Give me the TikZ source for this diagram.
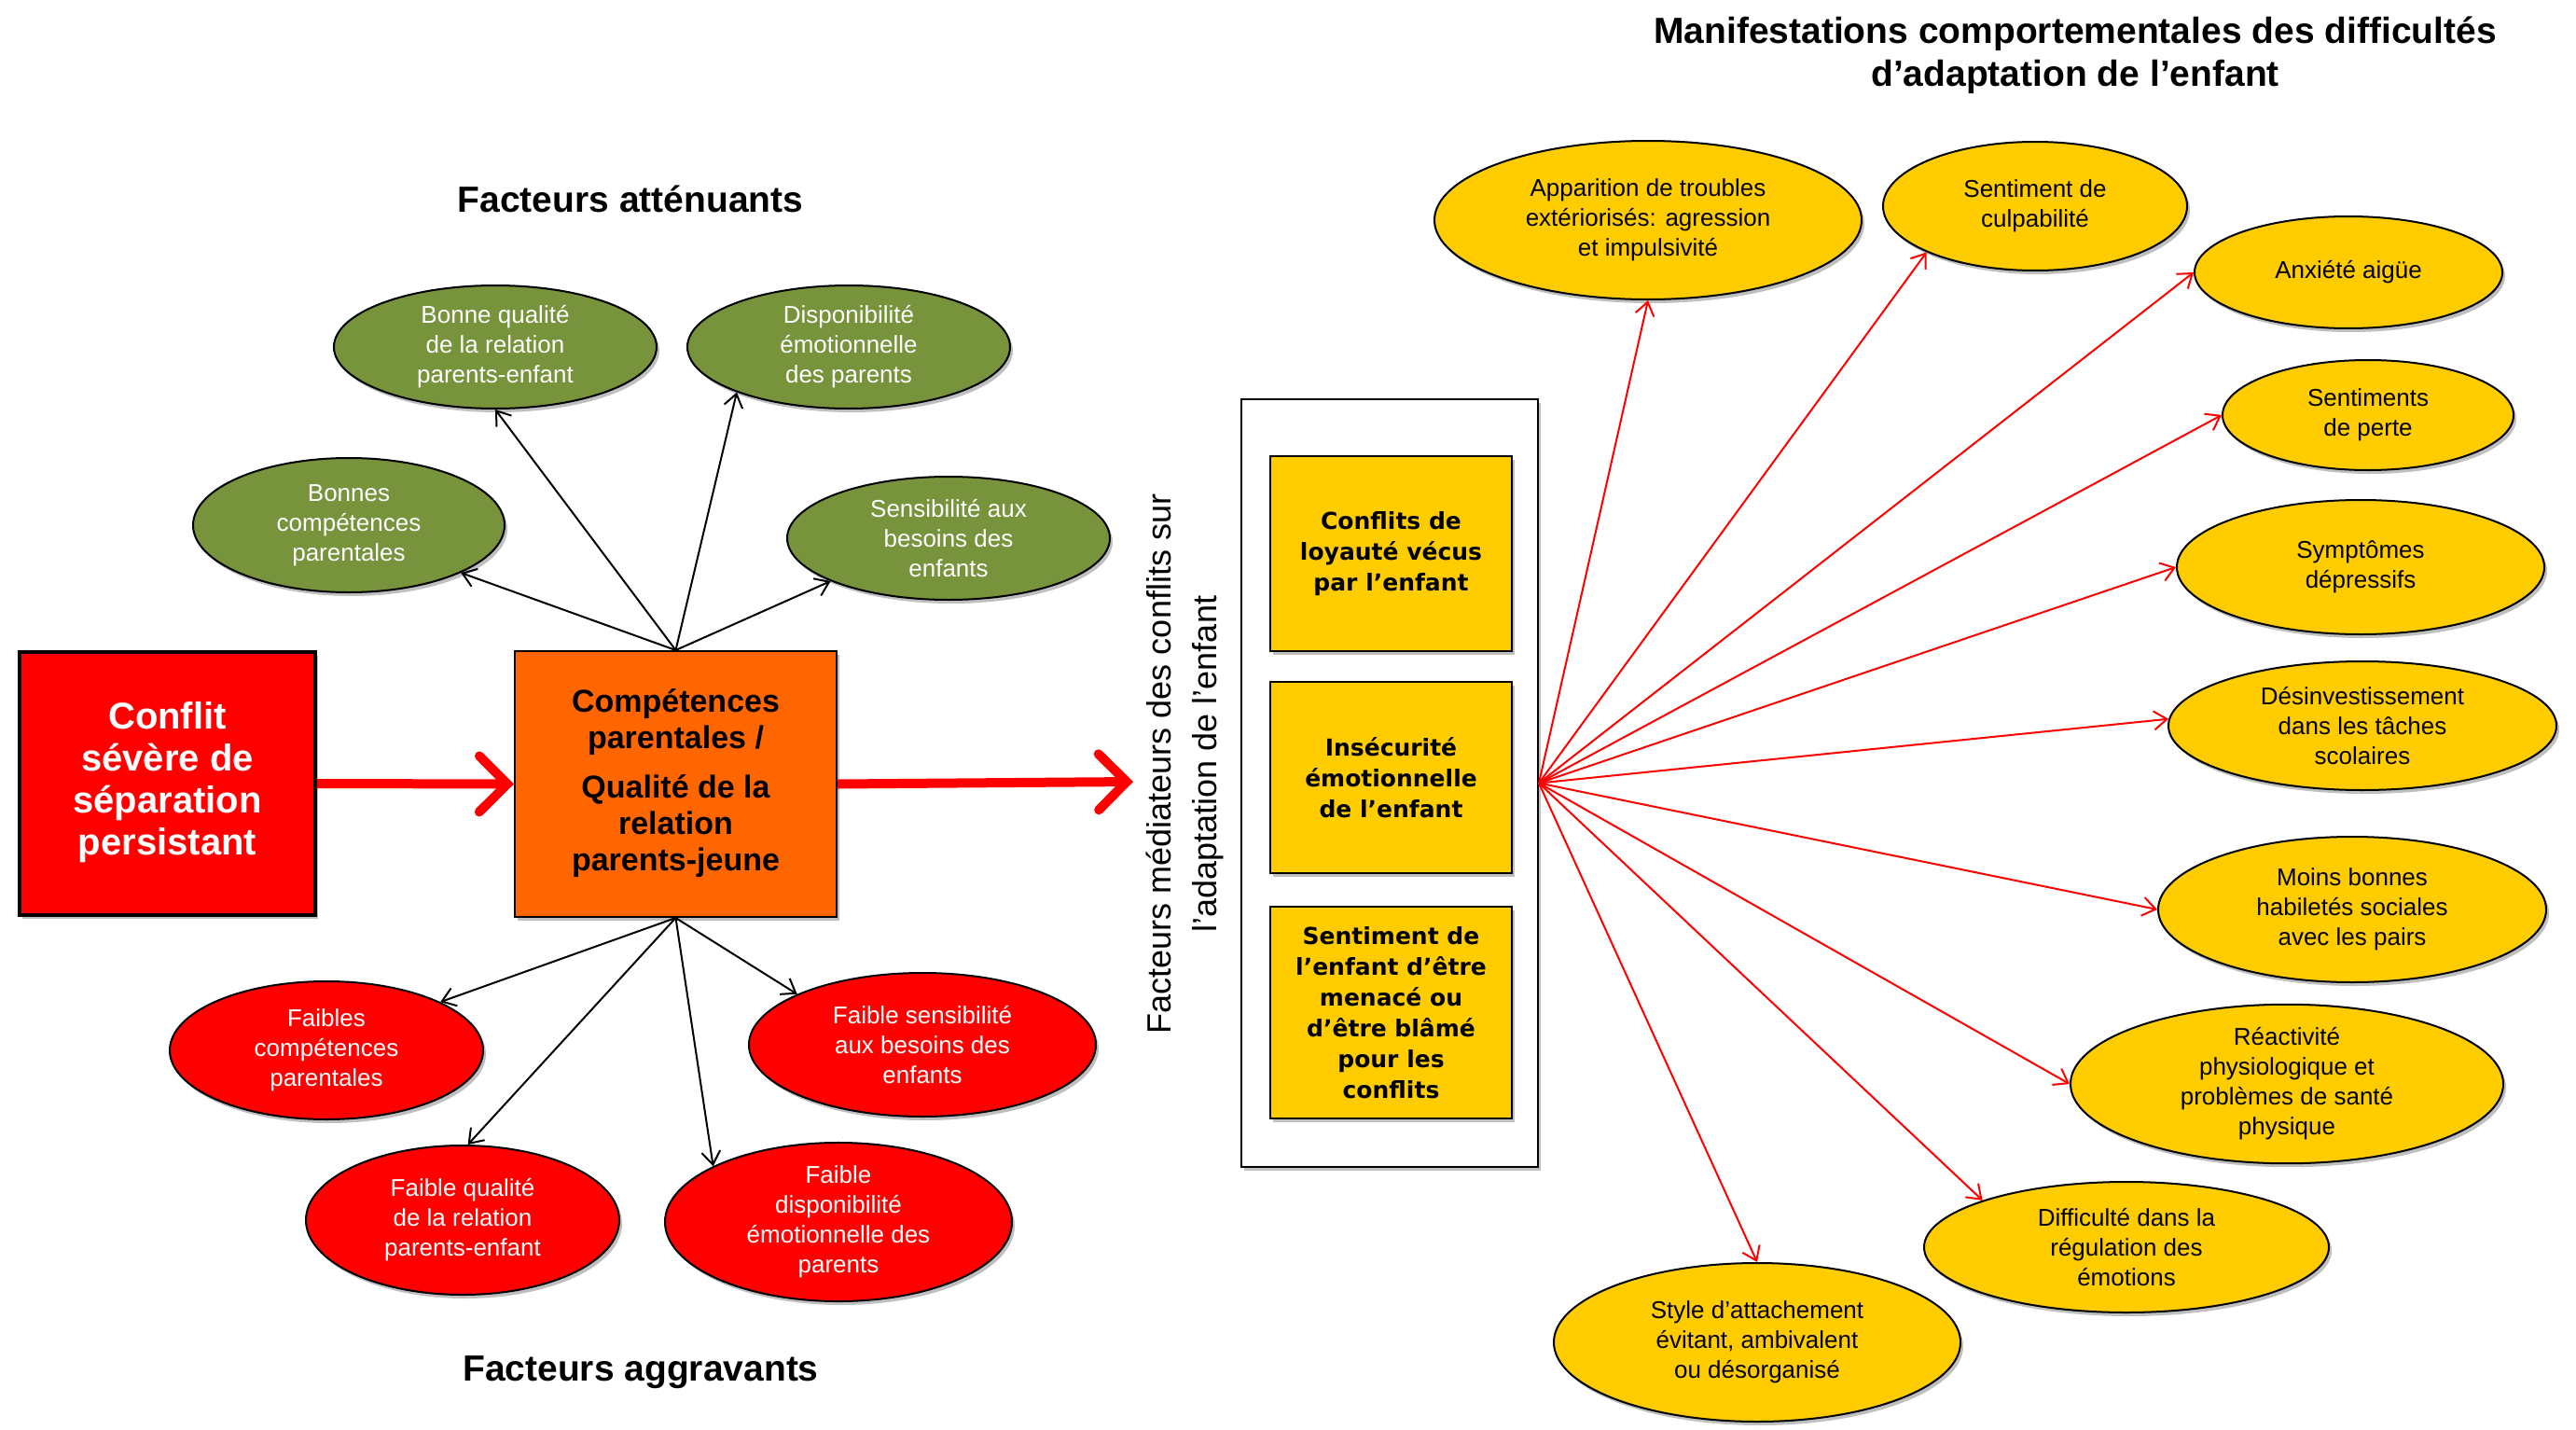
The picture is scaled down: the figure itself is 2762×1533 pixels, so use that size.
\documentclass[tikz,border=0pt]{standalone}
\usepackage{fontspec}
\setmainfont{Liberation Sans}
\newfontfamily\verd{DejaVu Sans}
\usetikzlibrary{shapes.geometric,arrows.meta,shadows}
\definecolor{cgreen}{HTML}{77933C}
\definecolor{cyellow}{HTML}{FFCC00}
\definecolor{cred}{HTML}{FF0000}
\definecolor{corange}{HTML}{FF6600}
\newcommand{\lowtext}[2]{\raisebox{#1}{\begin{tabular}{@{}c@{}}#2\end{tabular}}}
\tikzset{
  shad/.style={drop shadow={shadow xshift=3pt,shadow yshift=-4pt,opacity=.25,fill=black}},
  ell/.style={ellipse, draw=black, line width=2pt, inner sep=0pt, align=center,
    font=\fontsize{26}{32}\selectfont, shad},
  yel/.style={ell, fill=cyellow},
  grn/.style={ell, fill=cgreen, text=white},
  bad/.style={ell, fill=cred, text=white},
  medbox/.style={rectangle, draw=black, line width=2pt, fill=cyellow, align=center,
    minimum width=259pt, inner sep=0pt, font=\verd\bfseries\fontsize{25}{33}\selectfont, shad},
  titletext/.style={font=\bfseries\fontsize{39}{46}\selectfont, align=center},
  fanarrow/.style={draw=cred, line width=2pt, -{Straight Barb[length=14pt,width=20pt]}},
  blkarrow/.style={draw=black, line width=2pt, -{Straight Barb[length=14pt,width=20pt]}},
  bigarrow/.style={draw=cred, line width=10pt, -{Straight Barb[length=30pt,width=60pt,line cap=round]}}
}
\begin{document}
\begin{tikzpicture}[x=1pt,y=-1pt]
\useasboundingbox (0,0) rectangle (2762,1533);

% titles
\node[titletext] (tatt) at (676,213) {Facteurs atténuants};
\node[titletext] (tagg) at (687,1471) {Facteurs aggravants};
\node[titletext] (tman) at (2225,59) {Manifestations comportementales des difficultés\\d’adaptation de l’enfant};

% main boxes
\node[rectangle, draw=black, line width=4pt, fill=cred, minimum width=317pt, minimum height=282pt,
  text=white, align=center, font=\bfseries\fontsize{40}{45}\selectfont, shad] (conf) at (179.5,840)
  {\lowtext{-7pt}{Conflit\\sévère de\\séparation\\persistant}};
\node[rectangle, draw=black, line width=2pt, fill=corange, minimum width=345pt, minimum height=285pt,
  align=center, font=\bfseries\fontsize{34}{39}\selectfont, shad] (comp) at (724.5,840.5)
  {\lowtext{-5pt}{Compétences\\parentales /\\[14pt]Qualité de la\\relation\\parents-jeune}};

\coordinate (medin) at (1215,838);
\draw[bigarrow] (conf.east) -- (comp.west);
\draw[bigarrow] (comp.east) -- (medin);

% vertical text
\node[rotate=90, align=center, font=\fontsize{36}{49}\selectfont] (vert) at (1270,819)
  {Facteurs médiateurs des conflits sur\\l’adaptation de l’enfant};

% mediator box
\node[rectangle, draw=black, line width=2pt, fill=white, minimum width=318pt, minimum height=823pt, shad] (med) at (1490,839.5) {};
\node[medbox, minimum height=209pt] (m1) at (1491.5,593.5) {Conflits de\\loyauté vécus\\par l’enfant};
\node[medbox, minimum height=205pt] (m2) at (1491.5,833.5) {Insécurité\\émotionnelle\\de l’enfant};
\node[medbox, minimum height=227pt] (m3) at (1491.5,1085.5) {Sentiment de\\l’enfant d’être\\menacé ou\\d’être blâmé\\pour les\\conflits};

% green ellipses
\node[grn, minimum width=346pt, minimum height=132pt] (g1) at (531,372) {Bonne qualité\\de la relation\\parents-enfant};
\node[grn, minimum width=346pt, minimum height=132pt] (g2) at (910,372) {Disponibilité\\émotionnelle\\des parents};
\node[grn, minimum width=334pt, minimum height=144pt] (g3) at (374,563) {Bonnes\\compétences\\parentales};
\node[grn, minimum width=346pt, minimum height=132pt] (g4) at (1017,577) {Sensibilité aux\\besoins des\\enfants};

% red ellipses
\node[bad, minimum width=336pt, minimum height=148pt] (r1) at (350,1126) {Faibles\\compétences\\parentales};
\node[bad, minimum width=372pt, minimum height=154pt] (r2) at (989,1120) {Faible sensibilité\\aux besoins des\\enfants};
\node[bad, minimum width=336pt, minimum height=160pt] (r3) at (496,1308) {Faible qualité\\de la relation\\parents-enfant};
\node[bad, minimum width=372pt, minimum height=164pt] (r4) at (899,1310) {Faible\\disponibilité\\émotionnelle des\\parents};

% black arrows
\draw[blkarrow] (comp.north) -- (g1.270);
\draw[blkarrow] (comp.north) -- (g2.202);
\draw[blkarrow] (comp.north) -- (g3.337);
\draw[blkarrow] (comp.north) -- (g4.200);
\draw[blkarrow] (comp.south) -- (r1.23);
\draw[blkarrow] (comp.south) -- (r2.158);
\draw[blkarrow] (comp.south) -- (r3.86);
\draw[blkarrow] (comp.south) -- (r4.156);

% yellow ellipses
\node[yel, minimum width=458pt, minimum height=170pt] (y1) at (1767,236) {Apparition de troubles\\extériorisés: agression\\et impulsivité};
\node[yel, minimum width=326pt, minimum height=138pt] (y2) at (2182,221) {Sentiment de\\culpabilité};
\node[yel, minimum width=330pt, minimum height=120pt] (y3) at (2518,292) {Anxiété aigüe};
\node[yel, minimum width=312pt, minimum height=118pt] (y4) at (2539,445) {Sentiments\\de perte};
\node[yel, minimum width=394pt, minimum height=144pt] (y5) at (2531,608) {Symptômes\\dépressifs};
\node[yel, minimum width=416pt, minimum height=138pt] (y6) at (2533,778) {Désinvestissement\\dans les tâches\\scolaires};
\node[yel, minimum width=416pt, minimum height=156pt] (y7) at (2522,975) {Moins bonnes\\habiletés sociales\\avec les pairs};
\node[yel, minimum width=464pt, minimum height=154pt] (y8) at (2452,1162) {Réactivité\\physiologique et\\problèmes de santé\\physique};
\node[yel, minimum width=434pt, minimum height=140pt] (y9) at (2280,1337) {Difficulté dans la\\régulation des\\émotions};
\node[yel, minimum width=436pt, minimum height=170pt] (y10) at (1884,1439) {Style d’attachement\\évitant, ambivalent\\ou désorganisé};

% fan arrows
\foreach \n/\a in {y1/270, y2/203, y3/180, y4/180, y5/180, y6/178, y7/180, y8/180, y9/162, y10/90}
  \draw[fanarrow] (med.east) -- (\n.\a);
\end{tikzpicture}
\end{document}
